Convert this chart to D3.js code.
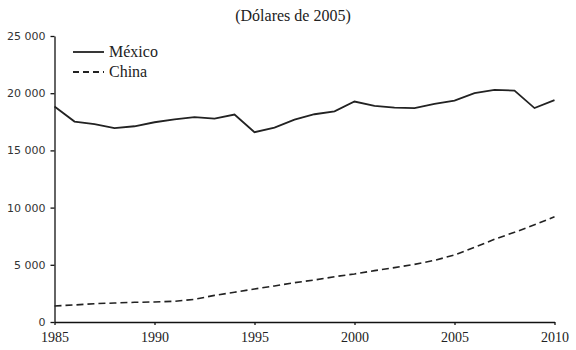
<!DOCTYPE html>
<html>
<head>
<meta charset="utf-8">
<script src="https://cdn.jsdelivr.net/npm/d3@7"></script>
<style>
  body { margin: 0; background: #fff; }
  .yax text { font-family: "DejaVu Sans", sans-serif; font-size: 11px; fill: #333; }
  .xax text { font-family: "Liberation Serif", serif; font-size: 14px; fill: #222; }
  .lbl { font-family: "Liberation Serif", serif; font-size: 16px; fill: #222; }
</style>
</head>
<body>
<div id="chart"></div>
<script>
// PIB per cápita, dólares de 2005
var years = [1985, 1986, 1987, 1988, 1989, 1990, 1991, 1992, 1993, 1994, 1995, 1996, 1997,
             1998, 1999, 2000, 2001, 2002, 2003, 2004, 2005, 2006, 2007, 2008, 2009, 2010];
var mexico = [18830, 17520, 17290, 16940, 17110, 17460, 17720, 17900, 17780, 18130, 16590, 16990, 17690,
              18160, 18420, 19270, 18890, 18740, 18690, 19060, 19350, 20000, 20290, 20230, 18700, 19400];
var china = [1400, 1490, 1600, 1660, 1720, 1750, 1810, 1980, 2330, 2600, 2890, 3150, 3440,
             3670, 3960, 4200, 4490, 4750, 5040, 5390, 5860, 6530, 7230, 7840, 8500, 9200];
var yTicks = [0, 5000, 10000, 15000, 20000, 25000];
var xTicks = [1985, 1990, 1995, 2000, 2005, 2010];

var width = 576;
var height = 350;

var svg = d3.select('#chart')
  .append('svg')
  .attr('width', width)
  .attr('height', height);

var x = d3.scaleLinear().domain([1985, 2010]).range([54.5, 554.5]);
var y = d3.scaleLinear().domain([0, 25000]).range([322, 36]);

var fmt = function(d) { return d3.format(',')(d).replace(/,/g, ' '); };

var yAxis = svg.append('g')
  .attr('class', 'yax')
  .attr('transform', 'translate(' + x(1985) + ',0)')
  .call(d3.axisLeft(y).tickValues(yTicks).tickFormat(fmt).tickSize(4).tickSizeOuter(0).tickPadding(5));

var xAxis = svg.append('g')
  .attr('class', 'xax')
  .attr('transform', 'translate(0,' + y(0) + ')')
  .call(d3.axisBottom(x).tickValues(xTicks).tickFormat(d3.format('d')).tickSize(3).tickSizeOuter(0).tickPadding(7));

svg.selectAll('.domain, .tick line').attr('stroke', '#111').attr('stroke-width', 1.3);

var line = d3.line()
  .x(function(d, i) { return x(years[i]); })
  .y(function(d) { return y(d); });

svg.append('path')
  .datum(mexico)
  .attr('d', line)
  .attr('fill', 'none')
  .attr('stroke', '#222')
  .attr('stroke-width', 1.8);

svg.append('path')
  .datum(china)
  .attr('d', line)
  .attr('fill', 'none')
  .attr('stroke', '#222')
  .attr('stroke-width', 1.6)
  .attr('stroke-dasharray', '7,4');

// title
svg.append('text')
  .attr('class', 'lbl')
  .attr('x', 293)
  .attr('y', 21)
  .attr('text-anchor', 'middle')
  .text('(Dólares de 2005)');

// legend
var legend = [
  { name: 'México', dash: null, y: 52 },
  { name: 'China', dash: '6,4', y: 72 }
];
var lg = svg.selectAll('.leg')
  .data(legend)
  .enter()
  .append('g')
  .attr('class', 'leg');
lg.append('line')
  .attr('x1', 73).attr('x2', 104)
  .attr('y1', function(d) { return d.y; })
  .attr('y2', function(d) { return d.y; })
  .attr('stroke', '#222')
  .attr('stroke-width', 1.8)
  .attr('stroke-dasharray', function(d) { return d.dash; });
lg.append('text')
  .attr('class', 'lbl')
  .attr('x', 109)
  .attr('y', function(d) { return d.y + 5; })
  .text(function(d) { return d.name; });
</script>
</body>
</html>
